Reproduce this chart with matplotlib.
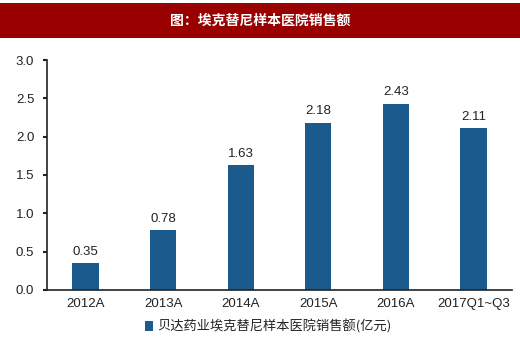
import matplotlib
matplotlib.use('Agg')
import matplotlib.pyplot as plt
from matplotlib.patches import Rectangle

plt.rcParams['font.family'] = ['Noto Sans CJK SC', 'DejaVu Sans']

categories = ['2012A', '2013A', '2014A', '2015A', '2016A', '2017Q1~Q3']
sales = [0.35, 0.78, 1.63, 2.18, 2.43, 2.11]
yticks = [0.0, 0.5, 1.0, 1.5, 2.0, 2.5, 3.0]

bar_color = '#1b5a8c'
text_color = '#222222'

fig = plt.figure(figsize=(5.2, 3.51), dpi=100)
fig.patches.append(Rectangle((0, 0.892), 1, 0.1, transform=fig.transFigure,
                             facecolor='#990000', edgecolor='none', zorder=0))
fig.text(0.5, 0.94, '图：埃克替尼样本医院销售额', color='white', ha='center',
         va='center', fontsize=10, fontweight='bold')

ax = fig.add_axes([0.09, 0.174, 0.895, 0.655])
x = range(len(categories))
ax.bar(x, sales, width=0.34, color=bar_color,
       label='贝达药业埃克替尼样本医院销售额(亿元)')
for xi, v in zip(x, sales):
    ax.text(xi, v + 0.07, f'{v:.2f}', ha='center', va='bottom',
            fontsize=9.5, color=text_color, family='Liberation Sans')

ax.set_xlim(-0.5, len(categories) - 0.5)
ax.set_ylim(0, 3.0)
ax.set_yticks(yticks)
ax.set_yticklabels([f'{t:.1f}' for t in yticks], family='Liberation Sans')
ax.set_xticks(list(x))
ax.set_xticklabels(categories, family='Liberation Sans')
ax.tick_params(axis='y', direction='out', length=3, width=1.5, labelsize=9.5,
               colors=text_color, pad=6)
ax.tick_params(axis='x', length=0, labelsize=9.5, colors=text_color, pad=6)
for s in ['top', 'right']:
    ax.spines[s].set_visible(False)
ax.spines['left'].set_color('#222222')
ax.spines['bottom'].set_color('#222222')
ax.spines['left'].set_linewidth(1.2)
ax.spines['bottom'].set_linewidth(1.2)

leg = ax.legend(loc='upper left', bbox_to_anchor=(0.2, -0.105), frameon=False,
                fontsize=9.5, handlelength=0.6, handleheight=0.8,
                handletextpad=0.3, borderaxespad=0)
for t in leg.get_texts():
    t.set_color(text_color)

fig.savefig('out.png', dpi=100)
